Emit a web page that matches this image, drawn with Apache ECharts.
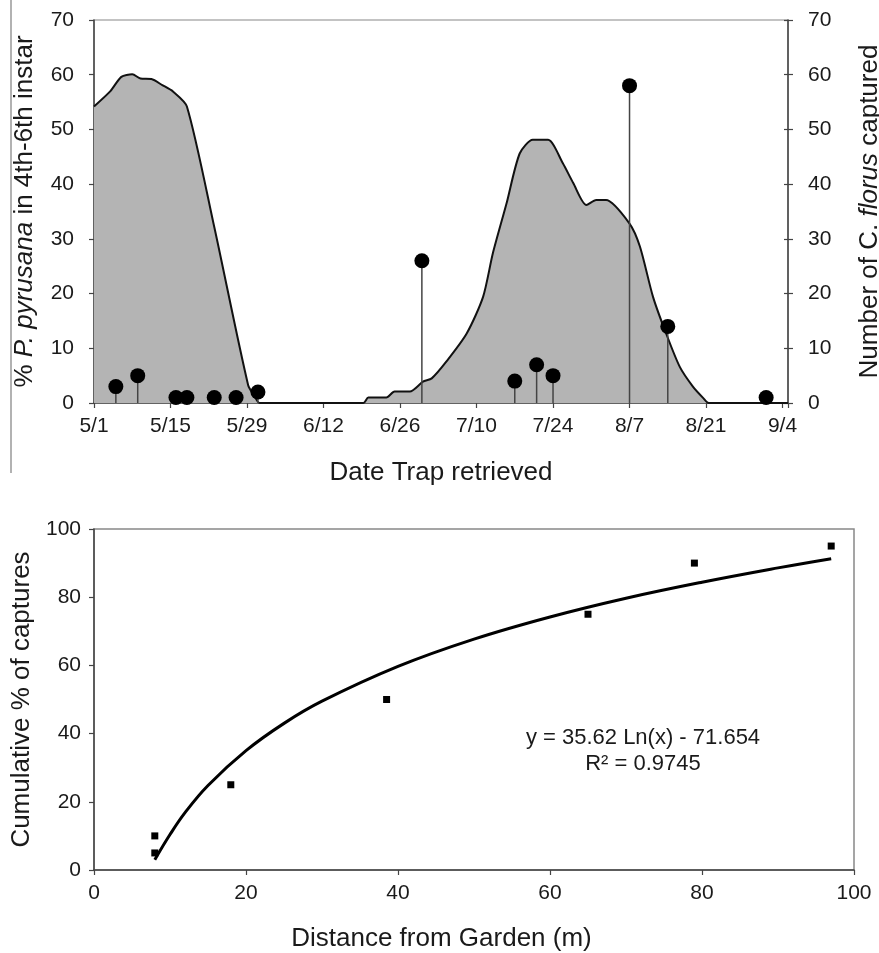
<!DOCTYPE html>
<html>
<head>
<meta charset="utf-8">
<script src="https://cdn.jsdelivr.net/npm/echarts@6/dist/echarts.min.js"></script>
<style>
html,body{margin:0;padding:0;background:#fff;}
#chart{width:879px;height:953px;}
</style>
</head>
<body>
<div id="chart"></div>
<script>
// ---- Top panel: days counted from 5/1 ----
var xTickLabels = ['5/1','5/15','5/29','6/12','6/26','7/10','7/24','8/7','8/21','9/4'];
var larvaeDay = [0, 3, 5, 7, 8.5, 10.5, 12.5, 14.5, 17, 22, 28.2, 29.4, 30.3, 49.3, 50.2, 53.5, 55, 57.8, 60.2, 61.8, 64.5, 68.2, 71.2, 73, 75.5, 77.9, 80.3, 83.1, 85.8, 87.7, 90.1, 91.9, 93.7, 98, 99.9, 102.3, 104.7, 107.2, 109.6, 111.5, 112.5, 127];
var larvaePct = [54.2, 57, 59.6, 60.1, 59.3, 59.2, 58.1, 56.9, 54.2, 32.2, 3.3, 1.2, 0, 0, 1.0, 1.0, 2.1, 2.1, 3.9, 4.5, 7.6, 12.7, 19.4, 27.4, 36.5, 45.6, 48.1, 48.1, 43.8, 40.2, 36.2, 37.1, 37.1, 32.8, 28.6, 19.4, 12.7, 6.6, 3.0, 0.9, 0, 0];
var trapDay = [4, 8, 15, 17, 22, 26, 30, 60, 77, 81, 84, 98, 105, 123];
var trapCount = [3, 5, 1, 1, 1, 1, 2, 26, 4, 7, 5, 58, 14, 1];

// ---- Bottom panel ----
var distance = [8, 8, 18, 38.5, 65, 79, 97];
var cumulative = [10, 5, 25, 50, 75, 90, 95];
var trendX = [8, 10, 12, 15, 20, 25, 30, 40, 50, 60, 70, 80, 90, 97];
var trendY = [3, 10.4, 16.9, 24.8, 35, 43, 49.5, 59.7, 67.7, 74.2, 79.7, 84.4, 88.6, 91.3];
var equationText = 'y = 35.62 Ln(x) - 71.654';
var r2Text = 'R\u00B2 = 0.9745';

function pairs(a, b) { return a.map(function (v, i) { return [v, b[i]]; }); }

var FONT = '"Liberation Sans", Arial, sans-serif';
var TXT = '#1a1a1a';
var AX = '#444';

var chart = echarts.init(document.getElementById('chart'));

function yAx(grid, pos, name, gap) {
  return {
    type: 'value', gridIndex: grid, position: pos, min: 0,
    name: name, nameLocation: 'middle', nameRotate: 90, nameGap: gap,
    nameTextStyle: { fontSize: 26, fontFamily: FONT, color: TXT,
      rich: { i: { fontStyle: 'italic', fontSize: 26, fontFamily: FONT, color: TXT } } },
    axisLine: { show: true, lineStyle: { color: AX, width: 1.5 } },
    axisTick: { show: true, length: 5, lineStyle: { color: AX, width: 1.2 } },
    axisLabel: { fontSize: 21, fontFamily: FONT, color: TXT, margin: 20 },
    splitLine: { show: false }
  };
}

var yLeft = yAx(0, 'left', '% {i|P. pyrusana} in 4th-6th instar', 56);
yLeft.max = 70; yLeft.interval = 10;
var yRight = yAx(0, 'right', 'Number of C. {i|florus} captured', 69);
yRight.max = 70; yRight.interval = 10;
var yRightIn = {
  type: 'value', gridIndex: 0, position: 'right', min: 0, max: 70, interval: 10,
  axisLine: { show: false }, axisLabel: { show: false }, splitLine: { show: false },
  axisTick: { show: true, inside: true, length: 4, lineStyle: { color: AX, width: 1.2 } }
};
var yBottom = yAx(1, 'left', 'Cumulative % of captures', 57);
yBottom.max = 100; yBottom.interval = 20;
yBottom.axisLabel.margin = 13;

var option = {
  backgroundColor: '#fff',
  animation: false,
  grid: [
    { left: 94, top: 20, width: 694, height: 383, show: true, borderColor: '#888', borderWidth: 1.2,
      backgroundColor: 'transparent', containLabel: false, outerBoundsMode: 'none' },
    { left: 94, top: 529, width: 760, height: 341, show: true, borderColor: '#888', borderWidth: 1.5,
      backgroundColor: 'transparent', containLabel: false, outerBoundsMode: 'none' }
  ],
  xAxis: [
    {
      type: 'value', gridIndex: 0, min: 0, max: 127, interval: 14,
      name: 'Date Trap retrieved', nameLocation: 'middle', nameGap: 57,
      nameTextStyle: { fontSize: 26, fontFamily: FONT, color: TXT },
      axisLine: { lineStyle: { color: AX, width: 1.5 } },
      axisTick: { length: 5, lineStyle: { color: AX, width: 1.2 } },
      axisLabel: { fontSize: 21, fontFamily: FONT, color: TXT, margin: 13,
        formatter: function (v) {
          var i = Math.round(v / 14);
          return (Math.abs(v - i * 14) < 1e-6 && i < xTickLabels.length) ? xTickLabels[i] : '';
        } },
      splitLine: { show: false }
    },
    {
      type: 'value', gridIndex: 1, min: 0, max: 100, interval: 20,
      name: 'Distance from Garden (m)', nameLocation: 'middle', nameGap: 56,
      nameTextStyle: { fontSize: 26, fontFamily: FONT, color: TXT, padding: [0, 65, 0, 0] },
      axisLine: { lineStyle: { color: AX, width: 1.5 } },
      axisTick: { length: 5, lineStyle: { color: AX, width: 1.2 } },
      axisLabel: { fontSize: 21, fontFamily: FONT, color: TXT, margin: 13 },
      splitLine: { show: false }
    }
  ],
  yAxis: [yLeft, yRight, yRightIn, yBottom],
  series: [
    {
      type: 'line', xAxisIndex: 0, yAxisIndex: 0,
      data: pairs(larvaeDay, larvaePct),
      smooth: 0.25, symbol: 'none',
      lineStyle: { color: '#111', width: 2 },
      areaStyle: { color: '#b4b4b4', opacity: 1 },
      z: 1
    },
    {
      type: 'bar', xAxisIndex: 0, yAxisIndex: 1,
      data: pairs(trapDay, trapCount),
      barWidth: 1.5, itemStyle: { color: '#444' }, z: 2
    },
    {
      type: 'scatter', xAxisIndex: 0, yAxisIndex: 1,
      data: pairs(trapDay, trapCount),
      symbol: 'circle', symbolSize: 15, itemStyle: { color: '#000', opacity: 1 }, z: 3
    },
    {
      type: 'line', xAxisIndex: 1, yAxisIndex: 3,
      data: pairs(trendX, trendY),
      smooth: 0.4, symbol: 'none',
      lineStyle: { color: '#000', width: 3 }, z: 2
    },
    {
      type: 'scatter', xAxisIndex: 1, yAxisIndex: 3,
      data: pairs(distance, cumulative),
      symbol: 'rect', symbolSize: 7, itemStyle: { color: '#000', opacity: 1 }, z: 3
    }
  ],
  graphic: [
    { type: 'line', shape: { x1: 11, y1: 0, x2: 11, y2: 473 }, style: { stroke: '#999', lineWidth: 1.5 } },
    { type: 'text', x: 643, y: 751,
      style: { text: equationText + '\n' + r2Text, align: 'center', verticalAlign: 'middle',
        textAlign: 'center', textVerticalAlign: 'middle', lineHeight: 26,
        fontSize: 22, fontFamily: FONT, fill: TXT } }
  ]
};
chart.setOption(option);
</script>
</body>
</html>
